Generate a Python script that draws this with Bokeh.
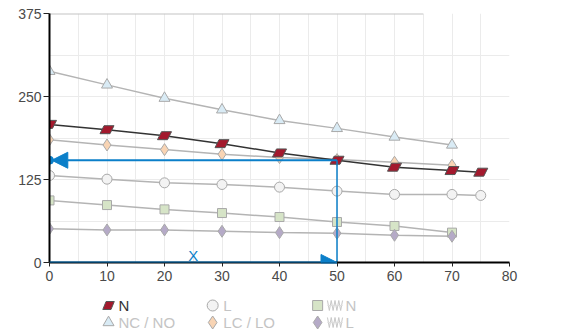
from bokeh.plotting import figure
from bokeh.models import Range1d, FixedTicker, Label, Arrow, NormalHead
from bokeh.layouts import column
from bokeh.core.properties import value
from bokeh.embed import file_html
from bokeh.resources import INLINE

# ---- data ----
x_n = [0, 10, 20, 30, 40, 50, 60, 70, 75]
y_n = [208, 200, 191, 179, 165, 154, 143.5, 138.5, 136]
x_nc = [0, 10, 20, 30, 40, 50, 60, 70]
y_nc = [288, 267.5, 247.5, 230, 214, 202, 189, 177]
x_lc = [0, 10, 20, 30, 40, 50, 60, 70]
y_lc = [185, 177, 170, 163, 158, 155, 151, 146.5]
x_l = [0, 10, 20, 30, 40, 50, 60, 70, 75]
y_l = [131, 125.5, 120, 117.5, 113.5, 107.5, 102.5, 102.5, 101]
x_sn = [0, 10, 20, 30, 40, 50, 60, 70]
y_sn = [93.5, 86.5, 80, 74.5, 68.5, 61, 55, 45]
x_sl = [0, 10, 20, 30, 40, 50, 60, 70]
y_sl = [51, 49, 49, 47, 45, 44, 41, 39.5]

x_ticks = [0, 10, 20, 30, 40, 50, 60, 70, 80]
y_ticks = [0, 125, 250, 375]
x_grid = [0, 5, 10, 15, 20, 25, 30, 35, 40, 45, 50, 55, 60, 65, 70, 75, 80]
y_grid = [0, 62.5, 125, 187.5, 250, 312.5, 375]

stroke_x = 50      # stroke X
force_at_x = 154   # force read at X
top_line = [0, 65]

legend_labels = ["N", "NC / NO", "L", "LC / LO", "N", "L"]

FONT = "Liberation Sans"
BLUE = "#0b7fc9"
GRAYLINE = "#b4b4b4"
OUTLINE = "#a9a9a9"
RED = "#a3192d"

W, H_MAIN, H_LEG = 561, 292, 39
X_MIN, X_MAX, Y_MIN, Y_MAX = 0, 80, 0, 375
BL, BR, BT, BB = 49, 52, 13, 30
PX_X = (W - BL - BR) / (X_MAX - X_MIN)       # px per x unit
PX_Y = (H_MAIN - BT - BB) / (Y_MAX - Y_MIN)  # px per y unit

# parallelogram marker outline in screen px (x right, y up)
PAR = [(-7, -4), (3, -4), (7, 4), (-3, 4)]


def par_shapes(xs, ys, sx, sy):
    pxs, pys = [], []
    for x, y in zip(xs, ys):
        pxs.append([x + dx / sx for dx, dy in PAR])
        pys.append([y + dy / sy for dx, dy in PAR])
    return pxs, pys


p = figure(width=W, height=H_MAIN, output_backend="svg", toolbar_location=None,
           x_range=Range1d(X_MIN, X_MAX), y_range=Range1d(Y_MIN, Y_MAX),
           min_border_left=BL, min_border_right=BR, min_border_top=BT, min_border_bottom=BB)
p.outline_line_color = None

p.xgrid.ticker = FixedTicker(ticks=x_grid)
p.ygrid.ticker = FixedTicker(ticks=y_grid)
p.xgrid.grid_line_color = "#ebebeb"
p.ygrid.grid_line_color = "#ebebeb"

p.xaxis.ticker = FixedTicker(ticks=x_ticks)
p.yaxis.ticker = FixedTicker(ticks=y_ticks)
for ax in (p.xaxis[0], p.yaxis[0]):
    ax.axis_line_color = "black"
    ax.axis_line_width = 2
    ax.major_tick_line_color = "#222222"
    ax.major_tick_line_width = 1
    ax.minor_tick_line_color = None
    ax.major_label_text_font = FONT
    ax.major_label_text_font_size = "14px"
    ax.major_label_text_color = "#4a4a4a"
p.yaxis.major_tick_out = 6
p.yaxis.major_tick_in = 0
p.yaxis.major_label_standoff = 2
p.xaxis.major_tick_out = 4
p.xaxis.major_tick_in = 0
p.xaxis.major_label_standoff = 4

# top gray line
p.line(top_line, [Y_MAX, Y_MAX], line_color="#c4c4c4", line_width=2)

# series lines
for xs, ys in ((x_nc, y_nc), (x_lc, y_lc), (x_l, y_l), (x_sn, y_sn), (x_sl, y_sl)):
    p.line(xs, ys, line_color=GRAYLINE, line_width=1.5)

# markers for gray series
p.scatter(x_nc, y_nc, marker="triangle", size=11, fill_color="#d9ebf5", line_color=OUTLINE, line_width=1)
p.scatter(x_lc, y_lc, marker="diamond", size=12, fill_color="#f8d4b4", line_color=OUTLINE, line_width=1)
p.scatter(x_l, y_l, marker="circle", size=10, fill_color="#f3f3f3", line_color=OUTLINE, line_width=1)
p.scatter(x_sn, y_sn, marker="square", size=9, fill_color="#d6e4c7", line_color=OUTLINE, line_width=1)
p.scatter(x_sl, y_sl, marker="diamond", size=12, fill_color="#b5aac7", line_color=OUTLINE, line_width=1)

# N series
p.line(x_n, y_n, line_color="#333333", line_width=1.5)
nxs, nys = par_shapes(x_n, y_n, PX_X, PX_Y)
p.patches(nxs, nys, fill_color=RED, line_color="#555555", line_width=1)

# blue construction lines
p.line([stroke_x, stroke_x], [0, force_at_x], line_color=BLUE, line_width=1.5)
p.add_layout(Arrow(end=NormalHead(size=16, fill_color=BLUE, line_color=BLUE),
                   x_start=stroke_x, y_start=force_at_x, x_end=0.4, y_end=force_at_x,
                   line_color=BLUE, line_width=2))
p.add_layout(Arrow(end=NormalHead(size=16, fill_color=BLUE, line_color=BLUE),
                   x_start=0, y_start=0, x_end=stroke_x, y_end=0,
                   line_color=BLUE, line_width=2))
p.scatter([0], [force_at_x], marker="circle", size=8, fill_color=BLUE, line_color=BLUE)
p.add_layout(Label(x=stroke_x / 2, y=0, text="X", text_font=FONT, text_font_size="15px",
                   text_color=BLUE, text_align="center", text_baseline="bottom", y_offset=-1))
p.add_layout(Label(x=X_MAX, y=0, text="[mm]", text_font=FONT, text_font_size="14px",
                   text_color="#555555", text_align="left", text_baseline="middle",
                   x_offset=16, y_offset=3))

# ---- legend figure (data units = px) ----
lg = figure(width=W, height=H_LEG, output_backend="svg", toolbar_location=None,
            x_range=Range1d(0, W), y_range=Range1d(H_LEG, 0),
            min_border=0, min_border_left=0, min_border_right=0, min_border_top=0, min_border_bottom=0)
lg.axis.visible = False
lg.grid.visible = False
lg.outline_line_color = None

r1, r2 = 13, 30
c1, c2, c3 = 72, 199, 327
lxs, lys = par_shapes([c1], [r1], 1, -1)
lg.patches(lxs, lys, fill_color=RED, line_color="#555555", line_width=1)
lg.scatter([c1], [r2], marker="triangle", size=11, fill_color="#d9ebf5", line_color=OUTLINE)
lg.scatter([c2], [r1], marker="circle", size=11, fill_color="#f3f3f3", line_color=OUTLINE)
lg.scatter([c2], [r2], marker="diamond", size=13, fill_color="#f8d4b4", line_color=OUTLINE)
lg.scatter([c3], [r1], marker="square", size=10, fill_color="#d6e4c7", line_color=OUTLINE)
lg.scatter([c3], [r2], marker="diamond", size=13, fill_color="#b5aac7", line_color=OUTLINE)

# spring icons
for ry in (r1, r2):
    xs, ys = [], []
    for i in range(9):
        xs.append(339 + i * 2.3)
        ys.append(ry - 5 if i % 2 == 0 else ry + 5)
    lg.line(xs, ys, line_color="#c8c8c8", line_width=1)
    lg.line([339, 357.5], [ry, ry], line_color="#dddddd", line_width=1)

labels_x = [84, 84, 212, 212, 361, 361]
labels_y = [r1, r2, r1, r2, r1, r2]
labels_c = ["#333333", "#c4c4c4", "#c4c4c4", "#c4c4c4", "#c4c4c4", "#c4c4c4"]
lg.text(labels_x, labels_y, text=legend_labels, text_color=labels_c, text_font=value(FONT),
        text_font_size="15px", text_align="left", text_baseline="middle")

layout = column(p, lg, spacing=0)
open("out.html", "w").write(file_html(layout, INLINE))
